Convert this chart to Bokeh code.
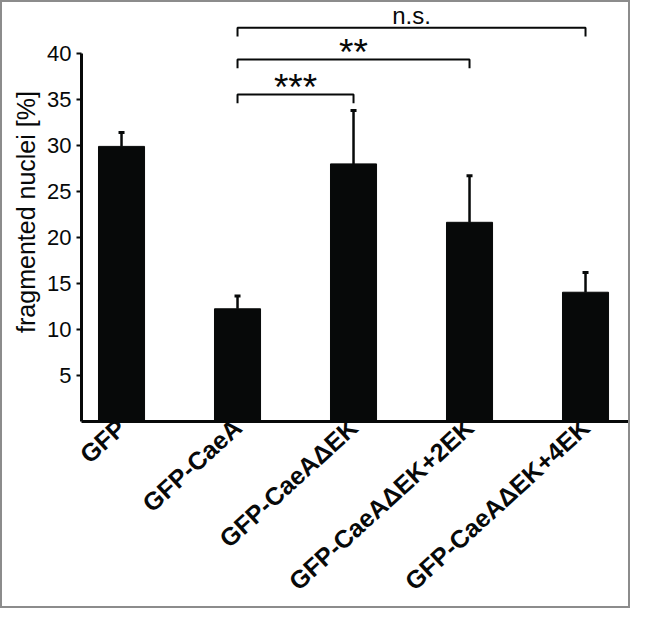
from bokeh.plotting import figure
from bokeh.models import (Range1d, FixedTicker, Whisker, TeeHead, ColumnDataSource,
                          Title)
from bokeh.core.properties import value
from bokeh.embed import file_html
from bokeh.resources import INLINE

# ---- data ----
categories = ["GFP", "GFP-CaeA", "GFP-CaeAΔEK", "GFP-CaeAΔEK+2EK", "GFP-CaeAΔEK+4EK"]
means = [29.9, 12.25, 28.0, 21.65, 14.05]
errors = [1.5, 1.4, 5.8, 5.05, 2.15]
y_ticks = [5, 10, 15, 20, 25, 30, 35, 40]
y_label = "fragmented nuclei [%]"

comp_left = [1, 1, 1]
comp_right = [2, 3, 4]
comp_level = [35.55, 39.35, 42.8]
comp_label = ["***", "**", "n.s."]

FONT = "Liberation Sans"
BLACK = "#070909"

xs = list(range(len(categories)))

p = figure(width=630, height=608, output_backend="svg", toolbar_location=None,
           x_range=Range1d(-0.345, 4.405), y_range=Range1d(0, 45.54),
           min_border_left=79, min_border_right=0, min_border_top=0,
           min_border_bottom=189)
p.styles = {"border": "2px solid #8c8c8c"}
p.outline_line_color = None
p.xgrid.visible = False
p.ygrid.visible = False
p.background_fill_color = "white"
p.border_fill_color = "white"

p.vbar(x=xs, top=means, width=0.397, bottom=0, color=BLACK)

src = ColumnDataSource(dict(base=xs, lower=means,
                            upper=[m + e for m, e in zip(means, errors)]))
p.add_layout(Whisker(source=src, base="base", lower="lower", upper="upper",
                     line_color=BLACK, line_width=2.5, lower_head=None,
                     upper_head=TeeHead(size=6, line_width=3, line_color=BLACK)))

# significance brackets
drop = 0.95
bx, by = [], []
tx, ty, tt, ts = [], [], [], []
for l, r, lev, lab in zip(comp_left, comp_right, comp_level, comp_label):
    bx.append([l, l, r, r])
    by.append([lev - drop, lev, lev, lev - drop])
    tx.append((l + r) / 2)
    if "*" in lab:
        ty.append(lev + 0.8)
        ts.append("37px")
    else:
        ty.append(lev + 1.3)
        ts.append("24px")
    tt.append(lab)
p.multi_line(xs=bx, ys=by, line_color=BLACK, line_width=2)
p.text(x=tx, y=ty, text=tt, text_font_size=ts, text_align="center",
       text_baseline="alphabetic", text_font=value(FONT), text_color=BLACK)

# x axis
xa = p.xaxis[0]
xa.ticker = FixedTicker(ticks=xs)
xa.major_label_overrides = {i: c for i, c in enumerate(categories)}
xa.major_label_orientation = 0.74
xa.major_label_text_font = FONT
xa.major_label_text_font_style = "bold"
xa.major_label_text_font_size = "25px"
xa.major_label_text_color = BLACK
xa.major_label_standoff = 2
xa.major_tick_out = 0
xa.major_tick_in = 0
xa.major_tick_line_color = None
xa.minor_tick_line_color = None
xa.axis_line_width = 3
xa.axis_line_color = BLACK

# y axis
ya = p.yaxis[0]
ya.ticker = FixedTicker(ticks=y_ticks)
ya.bounds = (0, max(y_ticks))
ya.major_label_text_font = FONT
ya.major_label_text_font_size = "22px"
ya.major_label_text_color = BLACK
ya.major_label_standoff = 5
ya.major_tick_out = 5
ya.major_tick_in = 0
ya.major_tick_line_width = 2
ya.major_tick_line_color = BLACK
ya.minor_tick_line_color = None
ya.axis_line_width = 3
ya.axis_line_color = BLACK

p.add_layout(Title(text=y_label, align="center", offset=-28,
                   text_font=FONT, text_font_style="normal",
                   text_font_size="25px", text_color=BLACK, standoff=10), "left")

open("out.html", "w").write(file_html(p, INLINE))
